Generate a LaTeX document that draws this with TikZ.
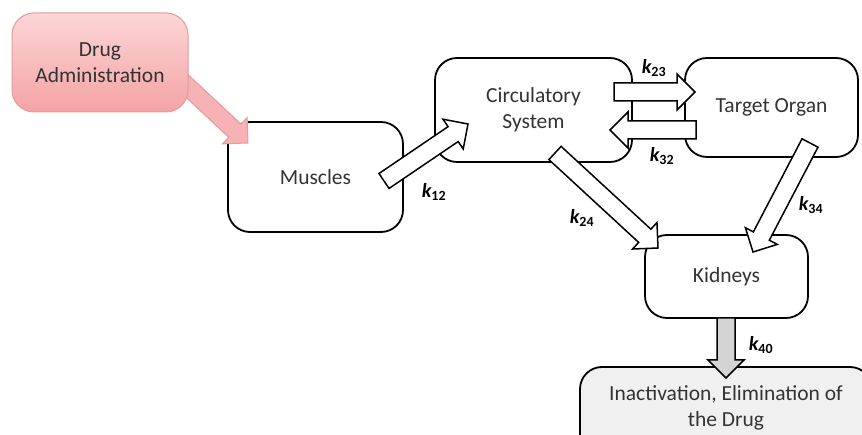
\documentclass[tikz,border=0pt]{standalone}
\usepackage{fontspec}
\setmainfont{Carlito}
\usepackage{tikz}
\usetikzlibrary{calc}
\definecolor{pinktop}{HTML}{FCD6D6}
\definecolor{pinkbot}{HTML}{F4A3A5}
\definecolor{pinkline}{HTML}{E39A9C}
\definecolor{boxtext}{HTML}{333333}
\definecolor{sinkfill}{HTML}{F0F0F0}
\definecolor{outfill}{HTML}{D4D4D4}
\tikzstyle{cmp}=[draw,line width=1.8pt,rounded corners=22pt,fill=white,align=center,text=boxtext,font=\fontsize{21.5}{26}\selectfont]
\tikzstyle{flow}=[draw,line width=1.5pt,line join=miter,fill=white]
\tikzstyle{rate}=[font=\fontsize{20}{22}\selectfont\bfseries\itshape]
\newcommand{\shaftw}{9pt}
\newcommand{\headw}{18pt}
\newcommand{\headlen}{18pt}
% block arrow: [style]{tail}{tip}{name}
\newcommand{\blockarrow}[4][]{%
  \coordinate (#4-base) at ($(#3)!\headlen!(#2)$);
  \draw[flow,#1] ($(#2)!\shaftw!90:(#3)$) -- ($(#4-base)!\shaftw!90:(#3)$)
    -- ($(#4-base)!\headw!90:(#3)$) -- (#3) -- ($(#4-base)!\headw!-90:(#3)$)
    -- ($(#4-base)!\shaftw!-90:(#3)$) -- ($(#2)!\shaftw!-90:(#3)$) -- cycle;
}
\newcommand{\kk}[1]{k\textsubscript{\upshape#1}}

\begin{document}
\begin{tikzpicture}[x=1pt,y=-1pt]
            \clip (0,0) rectangle (862,435);
            \fill[white] (0,0) rectangle (862,435);
            % compartments
            \node[cmp,minimum width=175pt,minimum height=110pt] (M) at (315.5,177) {Muscles};
            \node[cmp,minimum width=197pt,minimum height=104pt] (C) at (533.5,110) {Circulatory\\System};
            \node[cmp,minimum width=173pt,minimum height=99pt] (T) at (771.5,107.5) {Target Organ};
            \node[cmp,minimum width=163pt,minimum height=83pt] (K) at (726.5,276.5) {Kidneys};
            \node[cmp,fill=sinkfill,minimum width=292pt,minimum height=104pt] (E) at (726,419) {Inactivation, Elimination of\\the Drug\\[0pt]~};
            % transfer arrows
            \coordinate (d0) at (170,70);
            \coordinate (d1) at (248,143);
            \blockarrow[fill=pinkbot!70!pinktop,draw=pinkline,line width=1pt]{d0}{d1}{dM}
            \coordinate (a12) at (384,181);
            \coordinate (b12) at (468,124);
            \blockarrow{a12}{b12}{f12}
            \coordinate (a23) at (614,92);
            \coordinate (b23) at (695,92);
            \blockarrow{a23}{b23}{f23}
            \coordinate (a32) at (696,130);
            \coordinate (b32) at (610,130);
            \blockarrow{a32}{b32}{f32}
            \coordinate (a24) at (555,153);
            \coordinate (b24) at (658,248);
            \blockarrow{a24}{b24}{f24}
            \coordinate (a34) at (810,143);
            \coordinate (b34) at (753,252);
            \blockarrow{a34}{b34}{f34}
            \coordinate (a40) at (726,318);
            \coordinate (b40) at (726,378);
            \blockarrow[fill=outfill]{a40}{b40}{f40}
            % source
            \node[cmp,draw=pinkline,line width=1pt,top color=pinktop,bottom color=pinkbot,minimum width=176pt,minimum height=99pt] (D) at (100,62.5) {Drug\\Administration};
            % rate constants
            \node[rate] (l12) at (434,192) {\kk{12}};
            \node[rate] (l23) at (654,68) {\kk{23}};
            \node[rate] (l32) at (662,156) {\kk{32}};
            \node[rate] (l24) at (582,218) {\kk{24}};
            \node[rate] (l34) at (811,205) {\kk{34}};
            \node[rate] (l40) at (761,345) {\kk{40}};
        \end{tikzpicture}
\end{document}
